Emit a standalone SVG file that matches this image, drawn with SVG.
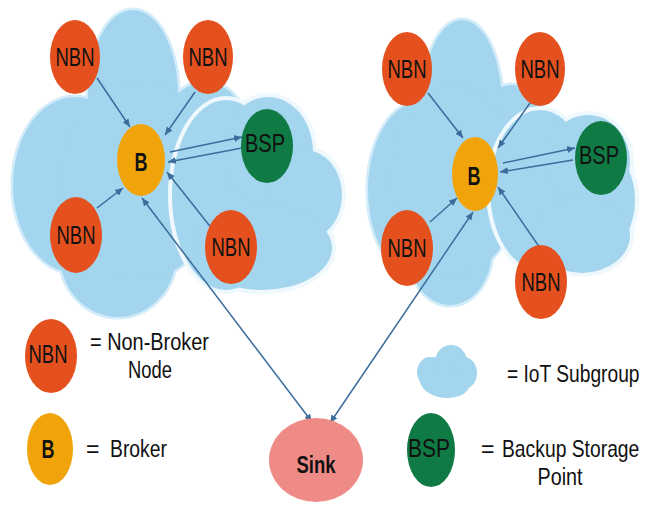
<svg xmlns="http://www.w3.org/2000/svg" xmlns:xlink="http://www.w3.org/1999/xlink" width="656" height="510" viewBox="0 0 656 510">
  <style>
    .cloud-halo { fill: #d3ecf9; stroke: #d3ecf9; stroke-width: 5; }
    .cloud-rim { fill: #eef8fd; stroke: #eef8fd; stroke-width: 8; }
    .cloud-fill { fill: #a3d5ee; stroke: none; }
    .nbn { fill: #e4511f; }
    .broker { fill: #f0a40a; }
    .bsp { fill: #107a44; }
    .sink { fill: #ef8b87; }
    .lbl { font-family: "Liberation Sans Narrow", "Liberation Sans", Arial, sans-serif; fill: #111; text-anchor: middle; }
    .node-txt { font-size: 26px; }
    .b-txt { font-size: 25px; font-weight: bold; }
    .legend { font-family: "Liberation Sans", Arial, sans-serif; font-size: 23px; fill: #111; }
    .link { stroke: #3b6c9c; stroke-width: 1.5; fill: none; }
  </style>
  <defs>
    <marker id="head" markerWidth="9" markerHeight="8" refX="8" refY="4" orient="auto" markerUnits="userSpaceOnUse">
      <path d="M0,0.5 L8,4 L0,7.5 Z" fill="#3b6c9c"/>
    </marker>
    <marker id="tail" markerWidth="9" markerHeight="8" refX="1" refY="4" orient="auto" markerUnits="userSpaceOnUse">
      <path d="M9,0.5 L1,4 L9,7.5 Z" fill="#3b6c9c"/>
    </marker>
    <!-- cloud outlines built from overlapping lobes -->
    <g id="cloudL1">
      <ellipse cx="133" cy="95" rx="45" ry="85"/>
      <ellipse cx="75" cy="185" rx="62" ry="88"/>
      <ellipse cx="118" cy="255" rx="58" ry="62"/>
      <ellipse cx="205" cy="140" rx="45" ry="58"/>
      <ellipse cx="140" cy="180" rx="80" ry="100"/>
    </g>
    <g id="cloudL2">
      <ellipse cx="226" cy="195" rx="54" ry="95"/>
      <ellipse cx="268" cy="152" rx="45" ry="55"/>
      <ellipse cx="305" cy="195" rx="37" ry="45"/>
      <ellipse cx="262" cy="248" rx="70" ry="42"/>
    </g>
    <g id="cloudR1">
      <ellipse cx="462" cy="105" rx="40" ry="85"/>
      <ellipse cx="420" cy="190" rx="52" ry="88"/>
      <ellipse cx="450" cy="250" rx="42" ry="55"/>
      <ellipse cx="512" cy="140" rx="38" ry="55"/>
      <ellipse cx="455" cy="180" rx="65" ry="95"/>
    </g>
    <g id="cloudR2">
      <ellipse cx="540" cy="190" rx="50" ry="80"/>
      <ellipse cx="588" cy="162" rx="42" ry="47"/>
      <ellipse cx="610" cy="200" rx="25" ry="45"/>
      <ellipse cx="582" cy="235" rx="48" ry="38"/>
    </g>
    <g id="cloudKey">
      <ellipse cx="430" cy="372" rx="13" ry="15"/>
      <ellipse cx="437" cy="376" rx="18" ry="19"/>
      <ellipse cx="451" cy="362" rx="16" ry="17"/>
      <ellipse cx="464" cy="373" rx="13" ry="16"/>
      <ellipse cx="447" cy="386" rx="22" ry="12"/>
    </g>
  </defs>

  <!-- IoT subgroup clouds -->
  <g id="subgroup-left">
    <use xlink:href="#cloudL1" class="cloud-halo"/>
    <use xlink:href="#cloudL1" class="cloud-fill"/>
    <use xlink:href="#cloudL2" class="cloud-rim"/>
    <use xlink:href="#cloudL2" class="cloud-fill"/>
  </g>
  <g id="subgroup-right">
    <use xlink:href="#cloudR1" class="cloud-halo"/>
    <use xlink:href="#cloudR1" class="cloud-fill"/>
    <use xlink:href="#cloudR2" class="cloud-rim"/>
    <use xlink:href="#cloudR2" class="cloud-fill"/>
  </g>

  <!-- connectors -->
  <g id="connectors">
    <line class="link" x1="97" y1="78" x2="130" y2="127" marker-end="url(#head)"/>
    <line class="link" x1="195" y1="92" x2="165" y2="135" marker-end="url(#head)"/>
    <line class="link" x1="97" y1="208" x2="123" y2="188" marker-end="url(#head)"/>
    <line class="link" x1="213" y1="230" x2="167" y2="172" marker-end="url(#head)"/>
    <line class="link" x1="170" y1="152" x2="242" y2="137" marker-end="url(#head)"/>
    <line class="link" x1="242" y1="148" x2="168" y2="162" marker-end="url(#head)"/>

    <line class="link" x1="428" y1="93" x2="463" y2="138" marker-end="url(#head)"/>
    <line class="link" x1="530" y1="103" x2="498" y2="148" marker-end="url(#head)"/>
    <line class="link" x1="430" y1="222" x2="457" y2="198" marker-end="url(#head)"/>
    <line class="link" x1="540" y1="248" x2="498" y2="187" marker-end="url(#head)"/>
    <line class="link" x1="503" y1="163" x2="575" y2="148" marker-end="url(#head)"/>
    <line class="link" x1="573" y1="160" x2="500" y2="172" marker-end="url(#head)"/>

    <line class="link" x1="142" y1="198" x2="312" y2="422" marker-start="url(#tail)" marker-end="url(#head)"/>
    <line class="link" x1="473" y1="212" x2="330" y2="423" marker-start="url(#tail)" marker-end="url(#head)"/>
  </g>

  <!-- left subgroup nodes -->
  <g id="nbn-l1"><ellipse class="nbn" cx="75" cy="57" rx="25" ry="37"/><text class="lbl node-txt" x="75" y="66" textLength="39" lengthAdjust="spacingAndGlyphs">NBN</text></g>
  <g id="nbn-l2"><ellipse class="nbn" cx="208" cy="57" rx="25" ry="37"/><text class="lbl node-txt" x="208" y="66" textLength="39" lengthAdjust="spacingAndGlyphs">NBN</text></g>
  <g id="broker-l"><ellipse class="broker" cx="141" cy="160" rx="24" ry="36"/><text class="lbl b-txt" x="141" y="171" textLength="13" lengthAdjust="spacingAndGlyphs">B</text></g>
  <g id="bsp-l"><ellipse class="bsp" cx="267" cy="146" rx="26" ry="37"/><text class="lbl node-txt" x="265" y="152" textLength="40" lengthAdjust="spacingAndGlyphs">BSP</text></g>
  <g id="nbn-l3"><ellipse class="nbn" cx="76" cy="235" rx="26" ry="38"/><text class="lbl node-txt" x="76" y="244" textLength="39" lengthAdjust="spacingAndGlyphs">NBN</text></g>
  <g id="nbn-l4"><ellipse class="nbn" cx="231" cy="247" rx="26" ry="37"/><text class="lbl node-txt" x="231" y="256" textLength="39" lengthAdjust="spacingAndGlyphs">NBN</text></g>

  <!-- right subgroup nodes -->
  <g id="nbn-r1"><ellipse class="nbn" cx="407" cy="69" rx="25" ry="37"/><text class="lbl node-txt" x="407" y="78" textLength="39" lengthAdjust="spacingAndGlyphs">NBN</text></g>
  <g id="nbn-r2"><ellipse class="nbn" cx="540" cy="69" rx="25" ry="37"/><text class="lbl node-txt" x="540" y="78" textLength="39" lengthAdjust="spacingAndGlyphs">NBN</text></g>
  <g id="broker-r"><ellipse class="broker" cx="475" cy="174" rx="23" ry="37"/><text class="lbl b-txt" x="474" y="185" textLength="13" lengthAdjust="spacingAndGlyphs">B</text></g>
  <g id="bsp-r"><ellipse class="bsp" cx="601" cy="158" rx="26" ry="37"/><text class="lbl node-txt" x="599" y="164" textLength="40" lengthAdjust="spacingAndGlyphs">BSP</text></g>
  <g id="nbn-r3"><ellipse class="nbn" cx="407" cy="248" rx="26" ry="38"/><text class="lbl node-txt" x="407" y="257" textLength="39" lengthAdjust="spacingAndGlyphs">NBN</text></g>
  <g id="nbn-r4"><ellipse class="nbn" cx="541" cy="282" rx="26" ry="37"/><text class="lbl node-txt" x="541" y="291" textLength="39" lengthAdjust="spacingAndGlyphs">NBN</text></g>

  <!-- sink -->
  <g id="sink"><ellipse class="sink" cx="316" cy="460" rx="47" ry="42"/><text class="lbl" x="316" y="473" font-size="24" font-weight="bold" textLength="39" lengthAdjust="spacingAndGlyphs">Sink</text></g>

  <!-- legend -->
  <g id="key-nbn">
    <ellipse class="nbn" cx="51" cy="356" rx="26" ry="37"/>
    <text class="lbl node-txt" x="48" y="363" textLength="39" lengthAdjust="spacingAndGlyphs">NBN</text>
    <text class="legend" x="90" y="350" textLength="119" lengthAdjust="spacingAndGlyphs">= Non-Broker</text>
    <text class="legend" x="150" y="378" text-anchor="middle" textLength="44" lengthAdjust="spacingAndGlyphs">Node</text>
  </g>
  <g id="key-broker">
    <ellipse class="broker" cx="50" cy="449" rx="23" ry="36"/>
    <text class="lbl b-txt" x="48" y="458" textLength="13" lengthAdjust="spacingAndGlyphs">B</text>
    <text class="legend" x="86" y="457">=</text>
    <text class="legend" x="110" y="457" textLength="57" lengthAdjust="spacingAndGlyphs">Broker</text>
  </g>
  <g id="key-subgroup">
    <use xlink:href="#cloudKey" class="cloud-fill"/>
    <!-- condensed label: horizontal squeeze keeps it inside the frame -->
    <text class="legend" transform="translate(507 382) scale(0.835 1)">= IoT Subgroup</text>
  </g>
  <g id="key-bsp">
    <ellipse class="bsp" cx="431" cy="450" rx="24" ry="37"/>
    <text class="lbl node-txt" x="429" y="457" textLength="42" lengthAdjust="spacingAndGlyphs">BSP</text>
    <text class="legend" x="481" y="457">=</text>
    <text class="legend" transform="translate(502 457) scale(0.84 1)">Backup Storage</text>
    <text class="legend" x="560" y="485" text-anchor="middle" textLength="45" lengthAdjust="spacingAndGlyphs">Point</text>
  </g>
</svg>
